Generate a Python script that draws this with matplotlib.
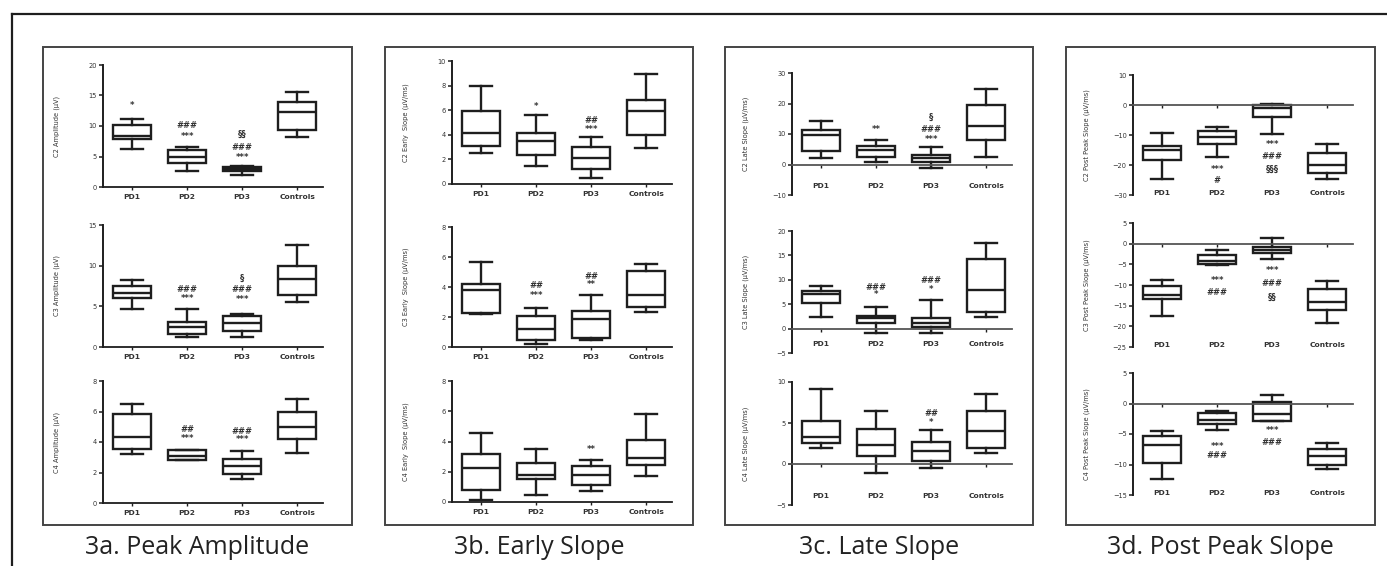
import numpy as np
import matplotlib.pyplot as plt
from matplotlib.patches import Rectangle
from matplotlib.lines import Line2D

W, H = 1387, 566

groups = ['PD1', 'PD2', 'PD3', 'Controls']

# five-number summaries per group: [min, q1, median, q3, max]
c2_amp = [[6.3, 7.9, 8.3, 10.1, 11.1], [2.6, 3.9, 4.9, 6.0, 6.5],
          [1.9, 2.6, 2.9, 3.2, 3.5], [8.2, 9.3, 12.3, 14.0, 15.5]]
c3_amp = [[4.7, 6.0, 6.6, 7.5, 8.2], [1.2, 1.6, 2.5, 3.1, 4.7],
          [1.2, 2.0, 2.9, 3.8, 4.1], [5.5, 6.4, 8.3, 9.9, 12.6]]
c4_amp = [[3.2, 3.55, 4.3, 5.85, 6.5], [2.8, 2.85, 3.1, 3.45, 3.5],
          [1.6, 1.9, 2.4, 2.9, 3.4], [3.3, 4.2, 5.0, 6.0, 6.8]]

c2_early = [[2.5, 3.1, 4.15, 5.95, 7.95], [1.45, 2.35, 3.5, 4.15, 5.6],
            [0.45, 1.2, 2.15, 3.0, 3.85], [2.95, 3.95, 5.95, 6.85, 8.95]]
c3_early = [[2.2, 2.25, 3.8, 4.2, 5.7], [0.2, 0.5, 1.2, 2.1, 2.6],
            [0.45, 0.6, 1.9, 2.4, 3.45], [2.35, 2.65, 3.5, 5.1, 5.55]]
c4_early = [[0.15, 0.8, 2.25, 3.15, 4.55], [0.45, 1.55, 1.8, 2.6, 3.5],
            [0.7, 1.1, 1.8, 2.35, 2.8], [1.75, 2.45, 2.9, 4.1, 5.8]]

c2_late = [[2.1, 4.3, 9.7, 11.4, 14.1], [0.7, 2.4, 4.8, 6.1, 8.1],
           [-1.2, 0.7, 2.1, 3.2, 5.7], [2.4, 8.1, 12.7, 19.6, 24.8]]
c3_late = [[2.4, 5.3, 7.1, 7.8, 8.7], [-0.9, 1.1, 2.1, 2.6, 4.5],
           [-0.9, 0.3, 1.2, 2.1, 5.8], [2.3, 3.5, 8.0, 14.3, 17.5]]
c4_late = [[1.9, 2.6, 3.3, 5.3, 9.1], [-1.05, 1.0, 2.3, 4.3, 6.5],
           [-0.5, 0.4, 1.6, 2.7, 4.2], [1.3, 2.0, 4.05, 6.5, 8.5]]

c2_post = [[-24.8, -18.3, -15.0, -13.7, -9.4], [-17.4, -13.0, -10.6, -8.6, -7.4],
           [-9.7, -4.1, -1.1, 0.0, 0.5], [-24.8, -22.6, -20.0, -16.1, -13.0]]
c3_post = [[-17.6, -13.5, -12.3, -10.3, -8.7], [-5.2, -5.0, -4.2, -2.8, -1.6],
           [-3.6, -2.3, -1.45, -0.8, 1.45], [-19.2, -16.1, -14.1, -10.9, -9.0]]
c4_post = [[-12.3, -9.7, -6.85, -5.3, -4.5], [-4.35, -3.4, -2.7, -1.6, -1.25],
           [-2.9, -2.9, -1.8, 0.2, 1.45], [-10.8, -10.1, -8.6, -7.5, -6.5]]

# significance marks: (group index, y value, text)
c2_amp_sig = [(0, 13.4, '*'), (1, 10.0, '###'), (1, 8.2, '***'),
              (2, 8.7, '§§'), (2, 6.5, '###'), (2, 4.8, '***')]
c3_amp_sig = [(1, 7.1, '###'), (1, 6.0, '***'),
              (2, 8.5, '§'), (2, 7.1, '###'), (2, 5.9, '***')]
c4_amp_sig = [(1, 4.8, '##'), (1, 4.2, '***'), (2, 4.7, '###'), (2, 4.15, '***')]
c2_early_sig = [(1, 6.3, '*'), (2, 5.2, '##'), (2, 4.4, '***')]
c3_early_sig = [(1, 4.1, '##'), (1, 3.45, '***'), (2, 4.7, '##'), (2, 4.2, '**')]
c4_early_sig = [(2, 3.5, '**')]
c2_late_sig = [(1, 11.4, '**'), (2, 15.6, '§'), (2, 11.4, '###'), (2, 8.3, '***')]
c3_late_sig = [(1, 8.4, '###'), (1, 6.9, '*'), (2, 9.8, '###'), (2, 8.0, '*')]
c4_late_sig = [(2, 6.2, '##'), (2, 5.1, '*')]
c2_post_sig = [(1, -21.4, '***'), (1, -25.2, '#'),
               (2, -13.0, '***'), (2, -17.0, '###'), (2, -21.4, '§§§')]
c3_post_sig = [(1, -8.9, '***'), (1, -11.9, '###'),
               (2, -6.6, '***'), (2, -9.7, '###'), (2, -12.9, '§§')]
c4_post_sig = [(1, -7.0, '***'), (1, -8.6, '###'), (2, -4.5, '***'), (2, -6.4, '###')]

titles = ['3a. Peak Amplitude', '3b. Early Slope', '3c. Late Slope', '3d. Post Peak Slope']

# (data, marks, y label, y limits, tick step) for each column of the figure
panels = [
    [(c2_amp, c2_amp_sig, 'C2 Amplitude (μV)', (0, 20), 5),
     (c3_amp, c3_amp_sig, 'C3 Amplitude (μV)', (0, 15), 5),
     (c4_amp, c4_amp_sig, 'C4 Amplitude (μV)', (0, 8), 2)],
    [(c2_early, c2_early_sig, 'C2 Early  Slope (μV/ms)', (0, 10), 2),
     (c3_early, c3_early_sig, 'C3 Early  Slope (μV/ms)', (0, 8), 2),
     (c4_early, c4_early_sig, 'C4 Early  Slope (μV/ms)', (0, 8), 2)],
    [(c2_late, c2_late_sig, 'C2 Late Slope (μV/ms)', (-10, 30), 10),
     (c3_late, c3_late_sig, 'C3 Late Slope (μV/ms)', (-5, 20), 5),
     (c4_late, c4_late_sig, 'C4 Late Slope (μV/ms)', (-5, 10), 5)],
    [(c2_post, c2_post_sig, 'C2 Post Peak Slope (μV/ms)', (-30, 10), 10),
     (c3_post, c3_post_sig, 'C3 Post Peak Slope (μV/ms)', (-25, 5), 5),
     (c4_post, c4_post_sig, 'C4 Post Peak Slope (μV/ms)', (-15, 5), 5)],
]

# layout in pixels
frames = [(43, 47, 352, 525), (385, 47, 693, 525), (725, 47, 1033, 525), (1066, 47, 1375, 525)]
ax_left = [103, 452, 792, 1133]
ax_rows = [[(65, 187), (225, 347), (381, 503)],
           [(61, 184), (227, 347), (381, 502)],
           [(73, 195), (231, 353), (382, 505)],
           [(75, 195), (223, 347), (373, 495)]]
ax_w = 220
label_off = [-10, -10, 9, 2]
ink = '#1e1e1e'

fig = plt.figure(figsize=(W / 100, H / 100), dpi=100)
fig.patch.set_facecolor('white')

# outer border (top and left)
fig.add_artist(Line2D([12 / W, 1], [1 - 14 / H, 1 - 14 / H], color=ink, lw=1.6))
fig.add_artist(Line2D([12 / W, 12 / W], [1 - 14 / H, 0], color=ink, lw=1.6))

for p, (x0, y0, x1, y1) in enumerate(frames):
    fig.add_artist(Rectangle((x0 / W, 1 - y1 / H), (x1 - x0) / W, (y1 - y0) / H,
                             transform=fig.transFigure, fill=False, ec='#444444', lw=1.4))
    fig.text((x0 + x1) / 2 / W, 1 - 547 / H, titles[p], ha='center', va='center',
             fontsize=18, family='Open Sans', color='#222222')

    for r, (data, sig, ylab, ylim, step) in enumerate(panels[p]):
        top, bot = ax_rows[p][r]
        ax = fig.add_axes([ax_left[p] / W, 1 - bot / H, ax_w / W, (bot - top) / H])
        ax.patch.set_alpha(0)
        stats = [dict(whislo=d[0], q1=d[1], med=d[2], q3=d[3], whishi=d[4], fliers=[])
                 for d in data]
        ax.bxp(stats, positions=[1, 2, 3, 4], widths=0.7, capwidths=0.4,
               showfliers=False, patch_artist=True,
               boxprops=dict(facecolor='white', edgecolor=ink, lw=1.7),
               medianprops=dict(color=ink, lw=1.7),
               whiskerprops=dict(color=ink, lw=1.7),
               capprops=dict(color=ink, lw=1.7))
        for gi, yv, txt in sig:
            ax.text(gi + 1, yv, txt, ha='center', va='center', fontsize=6,
                    fontweight='bold', color='#333333')

        ax.set_xlim(0.47, 4.47)
        ax.set_ylim(*ylim)
        ax.set_yticks(np.arange(ylim[0], ylim[1] + step / 2, step))
        ax.set_xticks([1, 2, 3, 4])
        ax.tick_params(axis='x', length=2.5, width=1, color=ink, labelbottom=False)
        ax.tick_params(axis='y', length=3, width=1.1, color=ink, labelsize=4.8,
                       labelcolor='#333333', pad=1.5)
        for s in ['top', 'right']:
            ax.spines[s].set_visible(False)
        ax.spines['left'].set_linewidth(1.4)
        ax.spines['left'].set_color(ink)
        ax.spines['bottom'].set_position(('data', 0))
        ax.spines['bottom'].set_linewidth(1.3)
        ax.spines['bottom'].set_color(ink if p < 2 else '#555555')
        ax.set_ylabel(ylab, fontsize=4.8, color='#333333')
        ax.yaxis.set_label_coords(-43 / ax_w, 0.5)
        for i, g in enumerate(groups):
            ax.annotate(g, xy=(i + 1, 0), xycoords=('data', 'axes fraction'),
                        xytext=(0, label_off[p] * 0.72), textcoords='offset points',
                        ha='center', va='center', fontsize=5.4, fontweight='bold',
                        color='#333333')

fig.savefig('out.png', dpi=100)
